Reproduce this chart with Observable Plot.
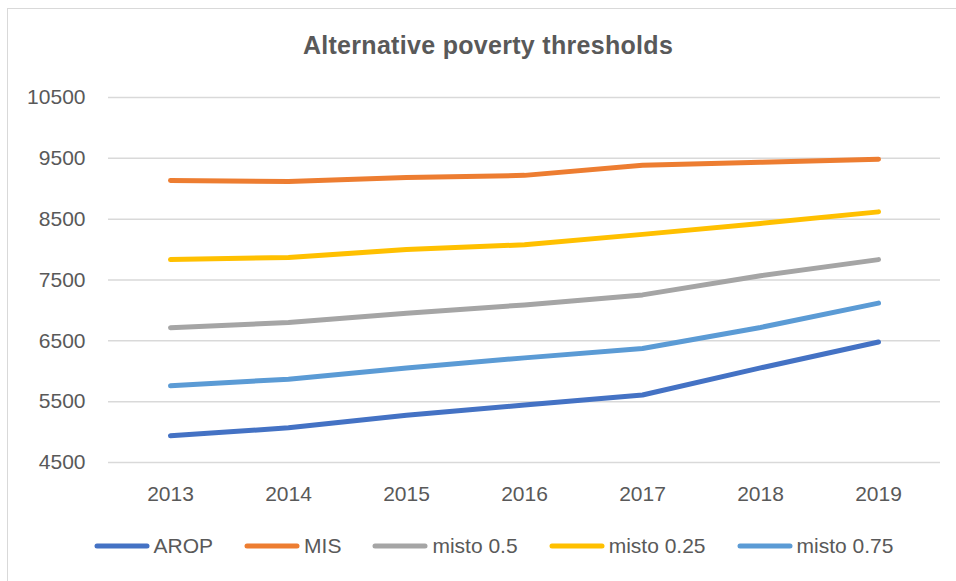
<!DOCTYPE html>
<html>
<head>
<meta charset="utf-8">
<script src="https://cdn.jsdelivr.net/npm/d3@7"></script>
<script src="https://cdn.jsdelivr.net/npm/@observablehq/plot@0.6"></script>
<style>
  html, body { margin: 0; padding: 0; background: #fff; }
  #wrap { position: relative; width: 956px; height: 581px; overflow: hidden; background: #fff;
          font-family: "Liberation Sans", Arial, sans-serif; color: #595959; }
  #frame { position: absolute; left: 7px; top: 8px; width: 1100px; height: 1100px;
           border: 1.5px solid #d9d9d9; box-sizing: border-box; }
  #plot { position: absolute; left: 0; top: 0; }
  #title { position: absolute; left: 0; top: 33px; width: 976px; text-align: center;
           font-size: 25px; line-height: 25px; font-weight: bold; letter-spacing: 0.3px; }
  #legend { position: absolute; left: 0; top: 535px; width: 987px; display: flex;
            justify-content: center; align-items: center; gap: 31px;
            font-size: 21px; line-height: 21px; }
  .item { display: flex; align-items: center; gap: 4px; }
  .item svg { display: block; }
</style>
</head>
<body>
<div id="wrap">
  <div id="frame"></div>
  <div id="plot"></div>
  <div id="title">Alternative poverty thresholds</div>
  <div id="legend"></div>
</div>
<script>
const years = ["2013", "2014", "2015", "2016", "2017", "2018", "2019"];
const seriesNames = ["AROP", "MIS", "misto 0.5", "misto 0.25", "misto 0.75"];
const seriesColors = ["#4472C4", "#ED7D31", "#A5A5A5", "#FFC000", "#5B9BD5"];
const arop     = [4940, 5070, 5275, 5445, 5610, 6055, 6480];
const mis      = [9135, 9120, 9185, 9220, 9385, 9435, 9485];
const misto05  = [6715, 6800, 6955, 7090, 7255, 7570, 7835];
const misto025 = [7835, 7870, 8000, 8080, 8250, 8430, 8620];
const misto075 = [5760, 5870, 6055, 6220, 6375, 6720, 7120];
const yTicks = [4500, 5500, 6500, 7500, 8500, 9500, 10500];

const seriesValues = [arop, mis, misto05, misto025, misto075];
const rows = [];
seriesNames.forEach((name, i) => {
  years.forEach((yr, j) => rows.push({series: name, year: yr, value: seriesValues[i][j]}));
});

const chart = Plot.plot({
  width: 956,
  height: 512,
  marginLeft: 108,
  marginRight: 16,
  marginTop: 97,
  marginBottom: 50,
  style: {fontFamily: '"Liberation Sans", Arial, sans-serif', fontSize: "21px", color: "#595959", background: "transparent", overflow: "visible"},
  x: {type: "point", domain: years, padding: 0.5},
  y: {domain: [4500, 10500]},
  color: {domain: seriesNames, range: seriesColors},
  marks: [
    Plot.ruleY(yTicks, {stroke: "#d9d9d9", strokeWidth: 1.5}),
    Plot.axisY({ticks: yTicks, tickSize: 0, tickPadding: 23, tickFormat: d3.format("d"), label: null}),
    Plot.axisX({tickSize: 0, tickPadding: 24, label: null}),
    Plot.line(rows, {x: "year", y: "value", z: "series", stroke: "series",
      strokeWidth: 5, strokeLinecap: "round", strokeLinejoin: "round", curve: "linear"})
  ]
});
document.getElementById("plot").appendChild(chart);

const legend = document.getElementById("legend");
seriesNames.forEach((name, i) => {
  const item = document.createElement("div");
  item.className = "item";
  item.innerHTML = `<svg width="56" height="8"><line x1="3" y1="4" x2="53" y2="4" stroke="${seriesColors[i]}" stroke-width="5" stroke-linecap="round"/></svg><span>${name}</span>`;
  legend.appendChild(item);
});
</script>
</body>
</html>
